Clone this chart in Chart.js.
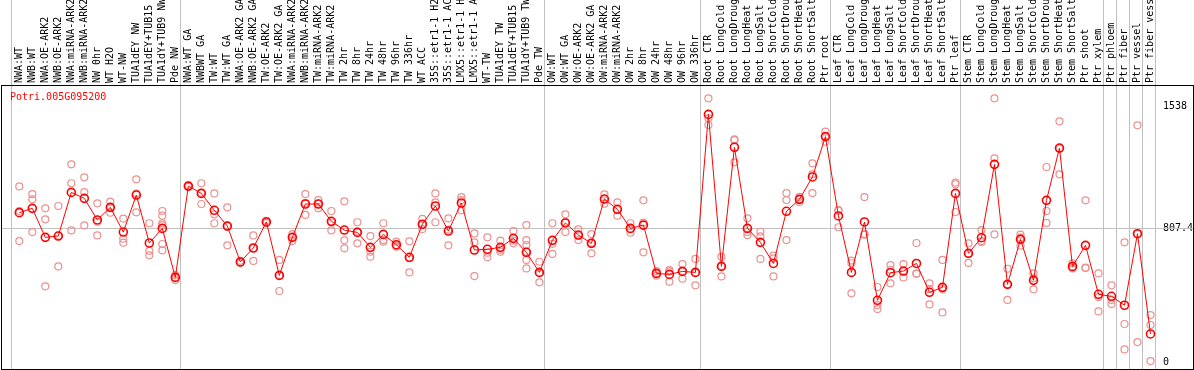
<!DOCTYPE html>
<html>
<head>
<meta charset="utf-8">
<script src="https://cdn.jsdelivr.net/npm/chart.js@4"></script>
<style>
  html, body { margin: 0; padding: 0; background: #fff; }
  #wrap { width: 1194px; height: 370px; }
</style>
</head>
<body>
<div id="wrap"><canvas id="expr"></canvas></div>
<script>
const geneId = 'Potri.005G095200';

const samples = [
  'NWA:WT', 'NWB:WT', 'NWA:OE-ARK2', 'NWB:OE-ARK2', 'NWA:miRNA-ARK2', 'NWB:miRNA-ARK2',
  'NW 0hr', 'WT H2O', 'WT-NW', 'TUA1dEY NW', 'TUA1dEY+TUB15', 'TUA1dY+TUB9 NW', 'Pde NW',
  'NWA:WT GA', 'NWBWT GA', 'TW:WT', 'TW:WT GA', 'NWA:OE-ARK2 GA', 'NWB:OE-ARK2 GA',
  'TW:OE-ARK2', 'TW:OE-ARK2 GA', 'NWA:miRNA-ARK2', 'NWB:miRNA-ARK2', 'TW:miRNA-ARK2',
  'TW:miRNA-ARK2', 'TW 2hr', 'TW 8hr', 'TW 24hr', 'TW 48hr', 'TW 96hr', 'TW 336hr',
  'WT ACC', '35S::etr1-1 H2O', '35S::etr1-1 ACC', 'LMX5::etr1-1 H2O', 'LMX5::etr1-1 ACC',
  'WT-TW', 'TUA1dEY TW', 'TUA1dEY+TUB15', 'TUA1dY+TUB9 TW', 'Pde TW',
  'OW:WT', 'OW:WT GA', 'OW:OE-ARK2', 'OW:OE-ARK2 GA', 'OW:miRNA-ARK2', 'OW:miRNA-ARK2',
  'OW 2hr', 'OW 8hr', 'OW 24hr', 'OW 48hr', 'OW 96hr', 'OW 336hr',
  'Root CTR', 'Root LongCold', 'Root LongDrought', 'Root LongHeat', 'Root LongSalt',
  'Root ShortCold', 'Root ShortDrought', 'Root ShortHeat', 'Root ShortSalt', 'Ptr root',
  'Leaf CTR', 'Leaf LongCold', 'Leaf LongDrought', 'Leaf LongHeat', 'Leaf LongSalt',
  'Leaf ShortCold', 'Leaf ShortDrought', 'Leaf ShortHeat', 'Leaf ShortSalt', 'Ptr leaf',
  'Stem CTR', 'Stem LongCold', 'Stem LongDrought', 'Stem LongHeat', 'Stem LongSalt',
  'Stem ShortCold', 'Stem ShortDrought', 'Stem ShortHeat', 'Stem ShortSalt', 'Ptr shoot',
  'Ptr xylem', 'Ptr phloem', 'Ptr fiber', 'Ptr vessel', 'Ptr fiber vessel'
];

// mean expression per sample
const means = [
  900, 926, 751, 759, 1022, 986, 856, 932, 783, 1006,
  717, 805, 510, 1060, 1016, 914, 819, 603, 687, 844,
  522, 751, 952, 952, 848, 795, 781, 691, 769, 707,
  631, 830, 940, 789, 958, 675, 679, 691, 745, 661,
  540, 733, 838, 765, 715, 982, 920, 805, 825, 534,
  528, 546, 540, 1492, 576, 1294, 805, 721, 594, 908,
  980, 1115, 1358, 880, 540, 844, 372, 538, 548, 594,
  420, 450, 1016, 655, 749, 1191, 468, 739, 492, 974,
  1289, 576, 703, 408, 396, 342, 773, 169
];

// individual replicates per sample
const replicates = [
  [1058, 910, 729], [1012, 980, 783], [926, 860, 456], [940, 761, 576], [1191, 1077, 793],
  [1113, 1024, 823], [956, 845, 763], [966, 930, 900], [864, 743, 719], [1101, 1015, 902],
  [836, 669, 643], [910, 882, 836, 825, 711, 673], [524, 510, 494], [1065, 1055], [1077, 1019, 952],
  [1016, 890, 836], [932, 822, 703], [610, 596], [763, 687, 609], [850, 838],
  [615, 523, 428], [771, 753, 729], [1012, 958, 886], [976, 954, 926], [910, 841, 793],
  [968, 733, 685], [842, 786, 715], [759, 665, 635], [836, 735, 725], [725, 701, 695],
  [727, 626, 540], [862, 827, 801], [1016, 962, 842], [866, 798, 703], [994, 976, 914],
  [775, 721, 518], [751, 659, 631], [731, 677, 665], [789, 731, 715], [825, 735, 705, 665, 615, 564],
  [604, 536, 480], [836, 712, 651], [890, 841, 783], [799, 761, 735], [771, 719, 655],
  [1010, 982, 954], [962, 916, 882], [836, 800, 779], [974, 840, 661], [548, 534, 520],
  [554, 546, 484], [590, 546, 502], [621, 537, 462], [1589, 1468, 1428], [633, 579, 516],
  [1342, 1337, 1203], [866, 784, 765], [785, 757, 621], [641, 625, 516], [1018, 976, 735],
  [995, 981, 964], [1197, 1131, 1018], [1388, 1359, 1327], [916, 912, 812], [611, 595, 414],
  [994, 771, 767], [452, 343, 319], [584, 556, 474], [590, 544, 510], [717, 533, 532],
  [474, 439, 347], [615, 438, 299], [1081, 1071, 904], [715, 653, 597], [795, 729, 723],
  [1589, 1227, 769], [562, 468, 374], [767, 749, 701], [534, 504, 438], [1175, 910, 838],
  [1450, 1286, 1131], [594, 570, 564], [974, 569, 566], [534, 392, 305], [462, 374, 349],
  [721, 229, 76], [1426, 773, 120], [283, 223, 6]
];

const yTicks = [0, 807.4, 1538];

// sample index where each group starts (separator drawn before it)
const groupStarts = [0, 13, 41, 53, 63, 73, 84, 85, 86, 87, 88];

const FONT = '"DejaVu Sans Mono", "Liberation Mono", monospace';
Chart.defaults.font.family = FONT;
Chart.defaults.font.size = 10;
Chart.defaults.color = '#000';

const maxReps = Math.max(...replicates.map(r => r.length));
const repSets = [];
for (let k = 0; k < maxReps; k++) {
  repSets.push({
    label: 'rep ' + (k + 1),
    data: replicates.map(r => (r[k] === undefined ? null : r[k])),
    showLine: false,
    pointRadius: 3.5,
    pointBorderWidth: 1.2,
    pointBorderColor: 'rgb(236,145,145)',
    pointBackgroundColor: 'rgba(0,0,0,0)',
    borderColor: 'rgb(236,145,145)'
  });
}

const frame = {
  id: 'frame',
  beforeDatasetsDraw(chart) {
    const { ctx, chartArea: a, scales: { x, y } } = chart;
    const step = x.getPixelForValue(1) - x.getPixelForValue(0);
    ctx.save();
    ctx.strokeStyle = '#c0c0c0';
    ctx.lineWidth = 1;
    ctx.beginPath();
    groupStarts.forEach(k => {
      const px = Math.round(x.getPixelForValue(0) + step * (k - 0.66)) + 0.5;
      ctx.moveTo(px, 0);
      ctx.lineTo(px, a.bottom);
    });
    const gy = Math.round(y.getPixelForValue(yTicks[1])) + 0.5;
    ctx.moveTo(1, gy);
    ctx.lineTo(chart.width - 1, gy);
    ctx.stroke();
    ctx.restore();
  },
  afterDraw(chart) {
    const { ctx, chartArea: a } = chart;
    ctx.save();
    ctx.strokeStyle = '#000';
    ctx.lineWidth = 1;
    ctx.strokeRect(1.5, a.top + 0.5, chart.width - 2, a.bottom - a.top);
    ctx.fillStyle = '#ff0000';
    ctx.font = '10px ' + FONT;
    ctx.textBaseline = 'middle';
    ctx.fillText(geneId, 10, a.top + 12);
    ctx.restore();
  }
};

new Chart(document.getElementById('expr'), {
  type: 'line',
  data: {
    labels: samples,
    datasets: [
      {
        label: geneId,
        data: means,
        borderColor: '#ff0000',
        borderWidth: 1,
        tension: 0,
        pointRadius: 4,
        pointBorderWidth: 1.6,
        pointBorderColor: '#ff0000',
        pointBackgroundColor: 'rgba(0,0,0,0)'
      },
      ...repSets
    ]
  },
  options: {
    responsive: true,
    maintainAspectRatio: false,
    animation: false,
    devicePixelRatio: 1,
    layout: { autoPadding: false, padding: { left: 12.8, right: 0, top: 0, bottom: 1 } },
    plugins: {
      legend: { display: false },
      tooltip: { enabled: false },
      title: { display: false }
    },
    scales: {
      x: {
        type: 'category',
        position: 'top',
        offset: true,
        grid: { display: false, drawTicks: false },
        border: { display: false },
        ticks: { autoSkip: false, minRotation: 90, maxRotation: 90, padding: 2, labelOffset: 12 },
        afterFit: s => { s.height = 85; s.paddingLeft = 0; s.paddingRight = 0; }
      },
      y: {
        position: 'right',
        min: -42,
        max: 1669,
        grid: { display: false, drawTicks: false },
        border: { display: false },
        ticks: { padding: 6, callback: v => String(v) },
        afterBuildTicks: s => { s.ticks = yTicks.map(v => ({ value: v })); },
        afterFit: s => { s.width = 37; s.paddingTop = 0; s.paddingBottom = 0; }
      }
    }
  },
  plugins: [frame]
});
</script>
</body>
</html>
